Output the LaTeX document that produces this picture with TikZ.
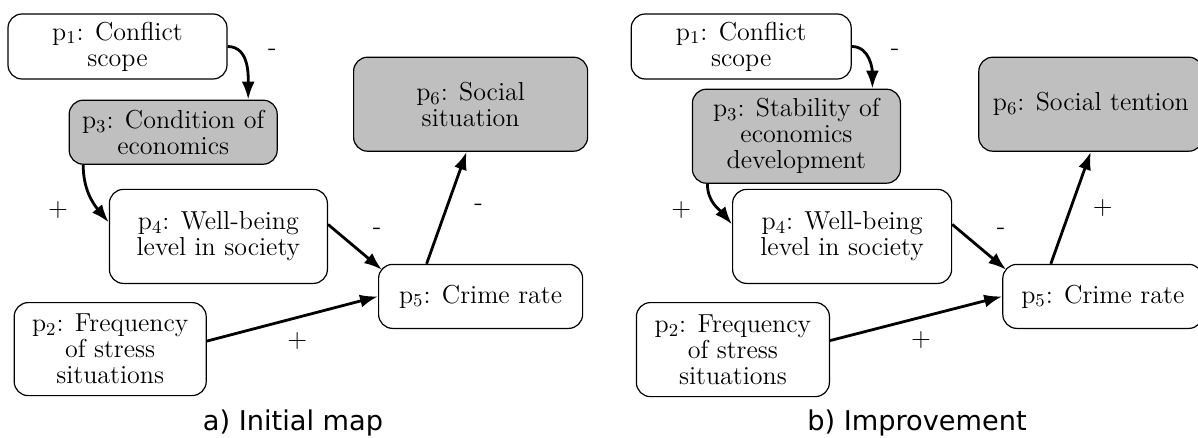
\documentclass[tikz,border=0pt]{standalone}
\usepackage{fontspec}
\usepackage{tikz}
\usetikzlibrary{positioning, arrows.meta}
\newfontfamily\capfont{DejaVu Sans}

\begin{document}
\begin{tikzpicture}[x=0.5pt, y=-0.5pt, >={Latex[length=9pt, width=6.5pt]},
  pnode/.style={draw, line width=0.6pt, rounded corners=7pt, align=center, inner sep=2pt, font=\fontsize{13}{13}\selectfont},
  pgray/.style={pnode, fill=gray!50},
  link/.style={->, line width=1.4pt},
  sign/.style={inner sep=1pt, font=\fontsize{13}{13}\selectfont}]
  \useasboundingbox (0,0) rectangle (1198,438);

  % a) initial map
  \node[pnode, minimum width=109.5pt, minimum height=32.5pt] at (117.5,46.5)     (P1)  {p\textsubscript{1}: Conflict\\scope};
  \node[pgray, minimum width=104pt, minimum height=32pt, below right = 10pt and -79.5pt of P1]     (P3)  {p\textsubscript{3}: Condition of\\economics};
  \node[pnode, minimum width=109pt, minimum height=47pt, below right = 12pt and -84.5pt of P3]     (P4)  {p\textsubscript{4}: Well-being\\level in society};
  \node[pnode, minimum width=102pt, minimum height=32pt, right=25pt of P4, yshift=-30pt]     (P5)  {p\textsubscript{5}: Crime rate};
  \node[pgray, minimum width=117pt, minimum height=47pt, above=56pt of P5, xshift=-5pt]     (P6)  {p\textsubscript{6}: Social\\situation};
  \node[pnode, minimum width=96pt, minimum height=46.5pt, below left = 9pt and -49pt of P4]     (P2)  {p\textsubscript{2}: Frequency\\of stress\\situations};
  \node[font=\capfont\fontsize{13.6}{16}\selectfont] at (293,423)     (capA)  {a) Initial map};

  % b) improvement
  \node[pnode, minimum width=110pt, minimum height=32.5pt, right=201.5pt of P1]     (Q1)  {p\textsubscript{1}: Conflict\\scope};
  \node[pgray, minimum width=104pt, minimum height=47pt, below right = 4.5pt and -80pt of Q1]     (Q3)  {p\textsubscript{3}: Stability of\\economics\\development};
  \node[pnode, minimum width=109.5pt, minimum height=47pt, below right = 2.5pt and -84.5pt of Q3]     (Q4)  {p\textsubscript{4}: Well-being\\level in society};
  \node[pnode, minimum width=100pt, minimum height=32pt, right=25pt of Q4, yshift=-30pt]     (Q5)  {p\textsubscript{5}: Crime rate};
  \node[pgray, minimum width=112pt, minimum height=47pt, above=56pt of Q5, xshift=-6pt]     (Q6)  {p\textsubscript{6}: Social tention};
  \node[pnode, minimum width=96.5pt, minimum height=47pt, below left = 9pt and -49pt of Q4]     (Q2)  {p\textsubscript{2}: Frequency\\of stress\\situations};
  \node[font=\capfont\fontsize{13.6}{16}\selectfont] at (917,423)     (capB)  {b) Improvement};

  \draw[link] (P1.east) to[out=0, in=90] node[sign, midway, xshift=13pt, yshift=6pt] (sA13) {-} ([xshift=37.5pt]P3.north);
  \draw[link] ([xshift=-45pt]P3.south) to[out=-90, in=130] node[sign, midway, xshift=-16pt, yshift=-7pt] (sA34) {+} ([yshift=7pt]P4.west);
  \draw[link] ([yshift=6pt]P4.east) -- node[sign, midway, xshift=11pt, yshift=8pt] (sA45) {-} ([shift={(2pt,-3pt)}]P5.north west);
  \draw[link] ([xshift=-27pt]P5.north) -- node[sign, midway, xshift=16pt] (sA56) {-} ([xshift=-2pt]P6.south);
  \draw[link] ([yshift=4pt]P2.east) -- node[sign, midway, xshift=2.5pt, yshift=-11pt] (sA25) {+} (P5.west);

  \draw[link] (Q1.east) to[out=0, in=90] node[sign, midway, xshift=13pt, yshift=4pt] (sB13) {-} ([xshift=38pt]Q3.north);
  \draw[link] ([xshift=-44.5pt]Q3.south) to[out=-90, in=130] node[sign, midway, xshift=-17pt, yshift=-2pt] (sB34) {+} ([yshift=6pt]Q4.west);
  \draw[link] ([yshift=6pt]Q4.east) -- node[sign, midway, xshift=11pt, yshift=8pt] (sB45) {-} ([shift={(2pt,-3pt)}]Q5.north west);
  \draw[link] ([xshift=-26pt]Q5.north) -- node[sign, midway, xshift=16pt] (sB56) {+} (Q6.south);
  \draw[link] ([yshift=4.5pt]Q2.east) -- node[sign, midway, xshift=2.5pt, yshift=-11pt] (sB25) {+} (Q5.west);
\end{tikzpicture}
\end{document}
